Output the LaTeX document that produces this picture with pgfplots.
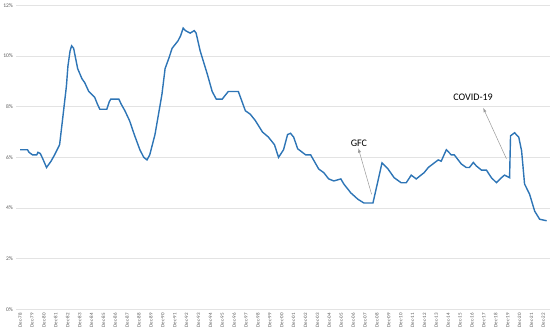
\documentclass[border=0pt]{standalone}
\usepackage{fontspec}
\setmainfont{Carlito}
\usepackage{pgfplots}
\pgfplotsset{compat=1.18}
\definecolor{rateblue}{HTML}{2E75B6}
\definecolor{tickgray}{HTML}{595959}
\definecolor{gridgray}{HTML}{E3E3E3}

\begin{document}
\begin{tikzpicture}
\begin{axis}[
  scale only axis,
  width=531pt,
  height=303pt,
  xmin=-0.31, xmax=44.53,
  ymin=0, ymax=12,
  ytick={0,2,4,6,8,10,12},
  yticklabel={\pgfmathprintnumber{\tick}\%},
  xtick={0,...,44},
  xticklabels={Dec-78,Dec-79,Dec-80,Dec-81,Dec-82,Dec-83,Dec-84,Dec-85,Dec-86,Dec-87,Dec-88,Dec-89,Dec-90,Dec-91,Dec-92,Dec-93,Dec-94,Dec-95,Dec-96,Dec-97,Dec-98,Dec-99,Dec-00,Dec-01,Dec-02,Dec-03,Dec-04,Dec-05,Dec-06,Dec-07,Dec-08,Dec-09,Dec-10,Dec-11,Dec-12,Dec-13,Dec-14,Dec-15,Dec-16,Dec-17,Dec-18,Dec-19,Dec-20,Dec-21,Dec-22},
  x tick label style={rotate=90,anchor=east,font=\fontsize{5}{6}\selectfont,text=tickgray},
  y tick label style={font=\fontsize{5.5}{6}\selectfont,text=tickgray},
  /pgf/number format/assume math mode=true,
  major tick length=0pt,
  ymajorgrids,
  grid style={gridgray,line width=0.7pt},
  axis line style={draw=none},
  clip=false,
]
\addplot[rateblue,line width=1.4pt,no marks] coordinates {
(0,6.3) (0.62,6.3) (0.75,6.2) (1.04,6.1) (1.4,6.1) (1.5,6.2) (1.7,6.15) (1.9,5.95)
(2.22,5.6) (2.6,5.85) (2.9,6.1) (3.32,6.5) (3.57,7.5) (3.89,8.8) (4.02,9.6) (4.2,10.2)
(4.33,10.4) (4.5,10.3) (4.84,9.5) (5.2,9.1) (5.43,8.95) (5.77,8.6) (6.28,8.36) (6.5,8.1)
(6.70,7.9) (7.29,7.9) (7.5,8.2) (7.63,8.3) (8.30,8.3) (8.5,8.1) (8.81,7.84) (9.2,7.45)
(9.6,6.9) (10.07,6.3) (10.4,6.0) (10.67,5.9) (10.9,6.1) (11.34,6.9) (11.6,7.6) (11.93,8.5)
(12.19,9.5) (12.5,9.9) (12.78,10.3) (13.28,10.6) (13.5,10.8) (13.71,11.1) (13.9,11.0) (14.30,10.9)
(14.64,11.0) (14.8,10.9) (15.14,10.2) (15.73,9.3) (16.15,8.6) (16.49,8.3) (17.00,8.3) (17.25,8.45)
(17.51,8.6) (18.35,8.6) (18.94,7.84) (19.36,7.7) (19.78,7.45) (20.38,7.0) (20.88,6.8) (21.39,6.5)
(21.73,6.0) (22.15,6.3) (22.49,6.9) (22.74,6.95) (23.0,6.8) (23.34,6.34) (24.01,6.1) (24.43,6.1)
(25.11,5.54) (25.53,5.4) (25.95,5.15) (26.38,5.07) (26.97,5.15) (27.22,4.95) (27.81,4.6) (28.40,4.35)
(28.91,4.2) (29.67,4.2) (30.09,5.07) (30.43,5.78) (30.94,5.54) (31.45,5.2) (32.04,5.0) (32.47,5.0)
(32.89,5.3) (33.31,5.15) (33.98,5.4) (34.32,5.6) (34.82,5.78) (35.16,5.9) (35.41,5.85) (35.84,6.3)
(36.26,6.1) (36.51,6.1) (37.10,5.74) (37.52,5.6) (37.78,5.6) (38.11,5.8) (38.37,5.66) (38.79,5.5)
(39.21,5.5) (39.63,5.2) (40.06,5.0) (40.48,5.2) (40.73,5.3) (41.16,5.2) (41.24,6.85) (41.58,6.97)
(41.93,6.8) (42.17,6.26) (42.42,4.95) (42.84,4.55) (43.27,3.88) (43.69,3.56) (44.28,3.5)
};
\draw[gray!80,line width=0.5pt,-latex] (axis cs:29.56,4.54) -- (axis cs:28.44,6.36);
\node[font=\fontsize{10}{12}\selectfont,anchor=south] at (axis cs:28.49,6.30) {GFC};
\draw[gray!80,line width=0.5pt,-latex] (axis cs:40.90,5.94) -- (axis cs:38.94,7.95);
\node[font=\fontsize{10}{12}\selectfont] at (axis cs:38.09,8.37) {COVID-19};
\end{axis}
\end{tikzpicture}
\end{document}
